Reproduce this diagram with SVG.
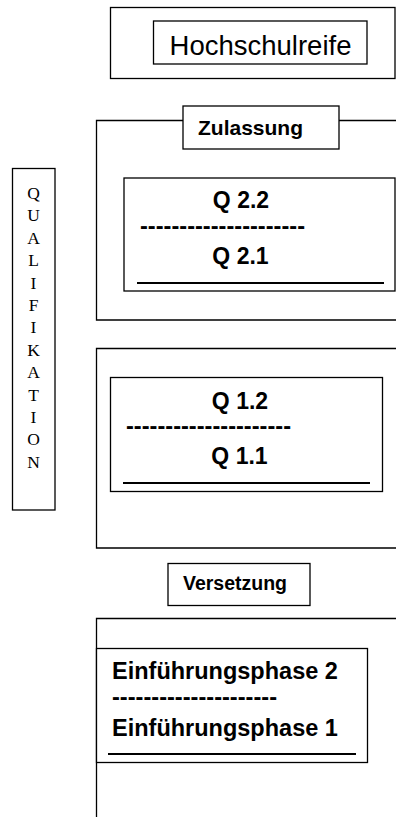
<svg xmlns="http://www.w3.org/2000/svg" width="396" height="817" viewBox="0 0 396 817">
<style>
.box{fill:#fff;stroke:#000;stroke-width:1.3}
.ln{fill:none;stroke:#000;stroke-width:1.3}
.ul{fill:none;stroke:#000;stroke-width:2.2}
.r{font-family:"Liberation Sans",Arial,sans-serif;fill:#000}
.b{font-family:"Liberation Sans",Arial,sans-serif;font-weight:bold;fill:#000}
.s{font-family:"Liberation Serif","Times New Roman",serif;font-size:17.5px;fill:#000}
</style>
<rect width="396" height="817" fill="#fff"/>
<g id="frames">
<path class="ln" d="M183,120.5 H96.5 V320 H396 M339,120.5 H396"/>
<path class="ln" d="M396,348.5 H96.5 V548 H396"/>
<path class="ln" d="M396,618.5 H96.5 V817"/>
</g>
<g id="hochschulreife">
<rect class="box" x="110.5" y="7.5" width="284.5" height="71"/>
<rect class="box" x="153.5" y="21" width="213.5" height="43"/>
<text class="r" x="260.5" y="54.5" font-size="27.5" text-anchor="middle">Hochschulreife</text>
</g>
<g id="zulassung">
<rect class="box" x="183" y="106" width="156" height="43"/>
<text class="b" x="250.5" y="134.5" font-size="21" text-anchor="middle">Zulassung</text>
</g>
<g id="q2">
<rect class="box" x="124" y="178" width="271" height="113"/>
<text class="b" x="241" y="208" font-size="23" text-anchor="middle">Q 2.2</text>
<text class="b" x="140" y="233.5" font-size="23" textLength="165" lengthAdjust="spacingAndGlyphs">---------------------</text>
<text class="b" x="240.5" y="263.5" font-size="23" text-anchor="middle">Q 2.1</text>
<line class="ul" x1="137" y1="283" x2="384" y2="283"/>
</g>
<g id="qualifikation">
<rect class="box" x="12.5" y="168.5" width="42.5" height="341.5"/>
<text class="s" text-anchor="middle">
<tspan x="33.5" y="199">Q</tspan><tspan x="33.5" dy="22.4">U</tspan><tspan x="33.5" dy="22.4">A</tspan><tspan x="33.5" dy="22.4">L</tspan><tspan x="33.5" dy="22.4">I</tspan><tspan x="33.5" dy="22.4">F</tspan><tspan x="33.5" dy="22.4">I</tspan><tspan x="33.5" dy="22.4">K</tspan><tspan x="33.5" dy="22.4">A</tspan><tspan x="33.5" dy="22.4">T</tspan><tspan x="33.5" dy="22.4">I</tspan><tspan x="33.5" dy="22.4">O</tspan><tspan x="33.5" dy="22.4">N</tspan>
</text>
</g>
<g id="q1">
<rect class="box" x="110.5" y="377.5" width="272" height="114"/>
<text class="b" x="240" y="409" font-size="23" text-anchor="middle">Q 1.2</text>
<text class="b" x="126" y="434" font-size="23" textLength="165" lengthAdjust="spacingAndGlyphs">---------------------</text>
<text class="b" x="239.5" y="464" font-size="23" text-anchor="middle">Q 1.1</text>
<line class="ul" x1="123" y1="483" x2="370" y2="483"/>
</g>
<g id="versetzung">
<rect class="box" x="168" y="563.5" width="142" height="42"/>
<text class="b" x="235" y="589.5" font-size="19.5" text-anchor="middle">Versetzung</text>
</g>
<g id="einfuehrung">
<rect class="box" x="96.5" y="648.5" width="271" height="114"/>
<text class="b" x="112" y="679" font-size="23.5">Einführungsphase 2</text>
<text class="b" x="112" y="705" font-size="23.5" textLength="165" lengthAdjust="spacingAndGlyphs">---------------------</text>
<text class="b" x="112" y="735.5" font-size="23.5">Einführungsphase 1</text>
<line class="ul" x1="108" y1="754" x2="356" y2="754"/>
</g>
</svg>
